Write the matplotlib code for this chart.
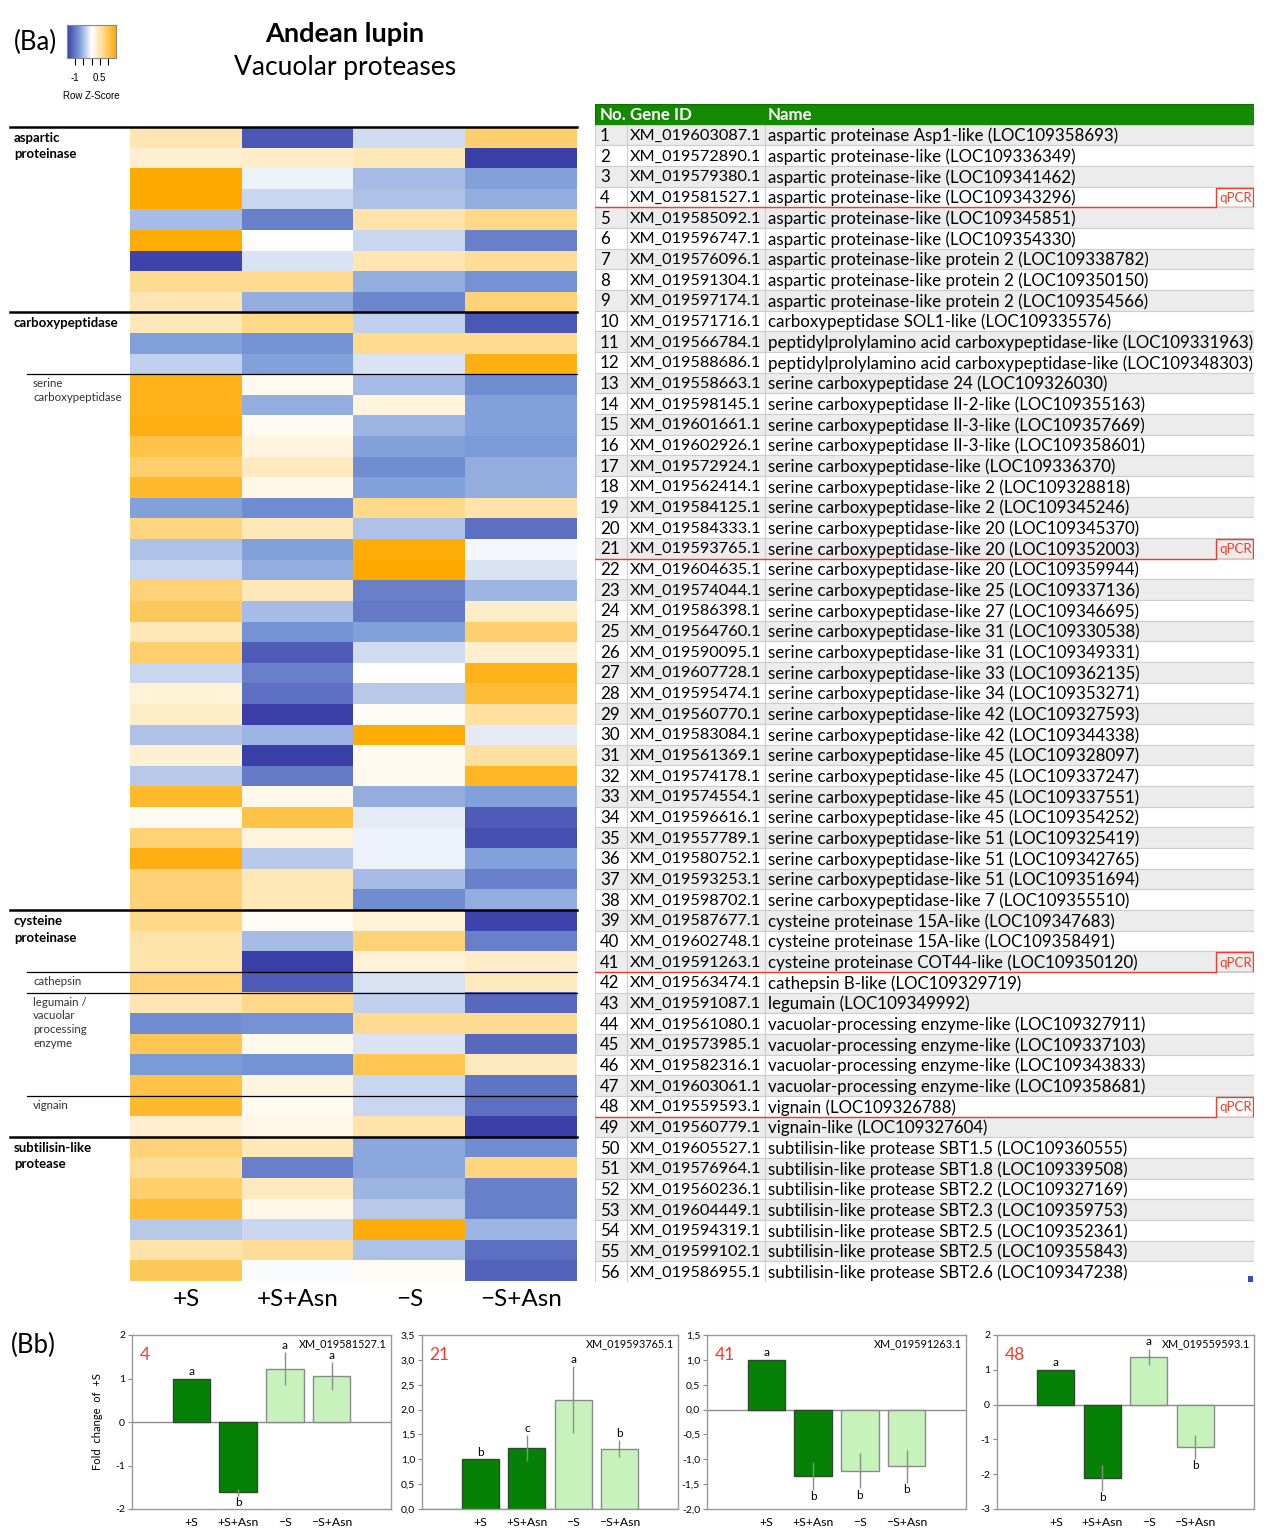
import numpy as np
import matplotlib
matplotlib.use('Agg')
import matplotlib.pyplot as plt
from matplotlib.colors import LinearSegmentedColormap
from matplotlib.patches import Rectangle
from matplotlib.ticker import FuncFormatter

W, H = 1267, 1536
plt.rcParams['font.family'] = ['Lato', 'DejaVu Sans']

conditions = ['+S', '+S+Asn', '\u2212S', '\u2212S+Asn']

# row z-scores, columns = conditions
zscores = np.array([
    # aspartic proteinase (1-9)
    [0.50, -1.30, -0.25, 0.90],
    [0.30, 0.35, 0.45, -1.50],
    [1.50, -0.10, -0.50, -0.70],
    [1.50, -0.30, -0.45, -0.60],
    [-0.50, -0.95, 0.55, 0.75],
    [1.45, 0.00, -0.30, -0.95],
    [-1.45, -0.20, 0.50, 0.65],
    [0.70, 0.70, -0.60, -0.80],
    [0.50, -0.60, -0.90, 0.85],
    # carboxypeptidase (10-12)
    [0.45, 0.75, -0.35, -1.30],
    [-0.70, -0.80, 0.70, 0.70],
    [-0.35, -0.70, -0.20, 1.40],
    # serine carboxypeptidase (13-38)
    [1.35, 0.10, -0.50, -0.85],
    [1.35, -0.60, 0.20, -0.70],
    [1.40, 0.08, -0.55, -0.70],
    [1.10, 0.20, -0.70, -0.75],
    [0.90, 0.40, -0.85, -0.60],
    [1.25, 0.15, -0.70, -0.60],
    [-0.70, -0.85, 0.75, 0.55],
    [0.80, 0.45, -0.45, -1.10],
    [-0.45, -0.70, 1.45, -0.05],
    [-0.30, -0.60, 1.50, -0.20],
    [0.85, 0.45, -0.95, -0.55],
    [1.00, -0.50, -1.00, 0.35],
    [0.45, -0.80, -0.70, 0.90],
    [0.90, -1.25, -0.25, 0.30],
    [-0.30, -0.95, 0.00, 1.35],
    [0.25, -1.10, -0.40, 1.20],
    [0.35, -1.50, 0.05, 0.60],
    [-0.45, -0.55, 1.45, -0.15],
    [0.28, -1.50, 0.10, 0.60],
    [-0.40, -1.00, 0.10, 1.30],
    [1.25, 0.12, -0.60, -0.70],
    [0.08, 1.10, -0.15, -1.25],
    [0.85, 0.20, -0.10, -1.35],
    [1.40, -0.40, -0.10, -0.70],
    [0.85, 0.45, -0.50, -0.95],
    [0.85, 0.45, -0.85, -0.60],
    # cysteine proteinase (39-49)
    [0.75, 0.05, 0.25, -1.45],
    [0.55, -0.50, 0.85, -0.95],
    [0.55, -1.50, 0.25, 0.35],
    [0.85, -1.25, -0.20, 0.40],
    [0.50, 0.75, -0.35, -1.15],
    [-0.85, -0.80, 0.70, 0.70],
    [1.05, 0.12, -0.20, -1.15],
    [-0.75, -0.80, 1.05, 0.40],
    [1.10, 0.20, -0.30, -1.05],
    [1.25, 0.10, -0.30, -1.10],
    [0.30, 0.15, 0.55, -1.50],
    # subtilisin-like protease (50-56)
    [0.85, 0.45, -0.65, -0.85],
    [0.65, -0.95, -0.65, 0.80],
    [0.90, 0.40, -0.55, -0.95],
    [1.20, 0.15, -0.40, -0.95],
    [-0.40, -0.30, 1.45, -0.55],
    [0.55, 0.65, -0.45, -1.10],
    [1.00, -0.03, 0.05, -1.20],
])

gene_ids = [
    'XM_019603087.1', 'XM_019572890.1', 'XM_019579380.1', 'XM_019581527.1',
    'XM_019585092.1', 'XM_019596747.1', 'XM_019576096.1', 'XM_019591304.1',
    'XM_019597174.1', 'XM_019571716.1', 'XM_019566784.1', 'XM_019588686.1',
    'XM_019558663.1', 'XM_019598145.1', 'XM_019601661.1', 'XM_019602926.1',
    'XM_019572924.1', 'XM_019562414.1', 'XM_019584125.1', 'XM_019584333.1',
    'XM_019593765.1', 'XM_019604635.1', 'XM_019574044.1', 'XM_019586398.1',
    'XM_019564760.1', 'XM_019590095.1', 'XM_019607728.1', 'XM_019595474.1',
    'XM_019560770.1', 'XM_019583084.1', 'XM_019561369.1', 'XM_019574178.1',
    'XM_019574554.1', 'XM_019596616.1', 'XM_019557789.1', 'XM_019580752.1',
    'XM_019593253.1', 'XM_019598702.1', 'XM_019587677.1', 'XM_019602748.1',
    'XM_019591263.1', 'XM_019563474.1', 'XM_019591087.1', 'XM_019561080.1',
    'XM_019573985.1', 'XM_019582316.1', 'XM_019603061.1', 'XM_019559593.1',
    'XM_019560779.1', 'XM_019605527.1', 'XM_019576964.1', 'XM_019560236.1',
    'XM_019604449.1', 'XM_019594319.1', 'XM_019599102.1', 'XM_019586955.1',
]

gene_names = [
    'aspartic proteinase Asp1-like (LOC109358693)',
    'aspartic proteinase-like (LOC109336349)',
    'aspartic proteinase-like (LOC109341462)',
    'aspartic proteinase-like (LOC109343296)',
    'aspartic proteinase-like (LOC109345851)',
    'aspartic proteinase-like (LOC109354330)',
    'aspartic proteinase-like protein 2 (LOC109338782)',
    'aspartic proteinase-like protein 2 (LOC109350150)',
    'aspartic proteinase-like protein 2 (LOC109354566)',
    'carboxypeptidase SOL1-like (LOC109335576)',
    'peptidylprolylamino acid carboxypeptidase-like (LOC109331963)',
    'peptidylprolylamino acid carboxypeptidase-like (LOC109348303)',
    'serine carboxypeptidase 24 (LOC109326030)',
    'serine carboxypeptidase II-2-like (LOC109355163)',
    'serine carboxypeptidase II-3-like (LOC109357669)',
    'serine carboxypeptidase II-3-like (LOC109358601)',
    'serine carboxypeptidase-like (LOC109336370)',
    'serine carboxypeptidase-like 2 (LOC109328818)',
    'serine carboxypeptidase-like 2 (LOC109345246)',
    'serine carboxypeptidase-like 20 (LOC109345370)',
    'serine carboxypeptidase-like 20 (LOC109352003)',
    'serine carboxypeptidase-like 20 (LOC109359944)',
    'serine carboxypeptidase-like 25 (LOC109337136)',
    'serine carboxypeptidase-like 27 (LOC109346695)',
    'serine carboxypeptidase-like 31 (LOC109330538)',
    'serine carboxypeptidase-like 31 (LOC109349331)',
    'serine carboxypeptidase-like 33 (LOC109362135)',
    'serine carboxypeptidase-like 34 (LOC109353271)',
    'serine carboxypeptidase-like 42 (LOC109327593)',
    'serine carboxypeptidase-like 42 (LOC109344338)',
    'serine carboxypeptidase-like 45 (LOC109328097)',
    'serine carboxypeptidase-like 45 (LOC109337247)',
    'serine carboxypeptidase-like 45 (LOC109337551)',
    'serine carboxypeptidase-like 45 (LOC109354252)',
    'serine carboxypeptidase-like 51 (LOC109325419)',
    'serine carboxypeptidase-like 51 (LOC109342765)',
    'serine carboxypeptidase-like 51 (LOC109351694)',
    'serine carboxypeptidase-like 7 (LOC109355510)',
    'cysteine proteinase 15A-like (LOC109347683)',
    'cysteine proteinase 15A-like (LOC109358491)',
    'cysteine proteinase COT44-like (LOC109350120)',
    'cathepsin B-like (LOC109329719)',
    'legumain (LOC109349992)',
    'vacuolar-processing enzyme-like (LOC109327911)',
    'vacuolar-processing enzyme-like (LOC109337103)',
    'vacuolar-processing enzyme-like (LOC109343833)',
    'vacuolar-processing enzyme-like (LOC109358681)',
    'vignain (LOC109326788)',
    'vignain-like (LOC109327604)',
    'subtilisin-like protease SBT1.5 (LOC109360555)',
    'subtilisin-like protease SBT1.8 (LOC109339508)',
    'subtilisin-like protease SBT2.2 (LOC109327169)',
    'subtilisin-like protease SBT2.3 (LOC109359753)',
    'subtilisin-like protease SBT2.5 (LOC109352361)',
    'subtilisin-like protease SBT2.5 (LOC109355843)',
    'subtilisin-like protease SBT2.6 (LOC109347238)',
]

qpcr_rows = [4, 21, 41, 48]

# (label, first row (1-based))
main_groups = [('aspartic\nproteinase', 1), ('carboxypeptidase', 10),
               ('cysteine\nproteinase', 39), ('subtilisin-like\nprotease', 50)]
sub_groups = [('serine\ncarboxypeptidase', 13), ('cathepsin', 42),
              ('legumain /\nvacuolar\nprocessing\nenzyme', 43), ('vignain', 48)]

# qPCR panels (Bb)
qpcr_ids = ['4', '21', '41', '48']
qpcr_genes = ['XM_019581527.1', 'XM_019593765.1', 'XM_019591263.1', 'XM_019559593.1']
qpcr_values = [[1.0, -1.62, 1.22, 1.05],
               [1.0, 1.23, 2.20, 1.21],
               [1.0, -1.33, -1.23, -1.14],
               [1.0, -2.11, 1.38, -1.21]]
qpcr_errors = [[0.0, 0.08, 0.38, 0.32],
               [0.0, 0.26, 0.67, 0.17],
               [0.0, 0.28, 0.35, 0.33],
               [0.0, 0.37, 0.23, 0.34]]
qpcr_letters = [['a', 'b', 'a', 'a'],
                ['b', 'c', 'a', 'b'],
                ['a', 'b', 'b', 'b'],
                ['a', 'b', 'a', 'b']]
qpcr_ylims = [(-2, 2), (0, 3.5), (-2, 1.5), (-3, 2)]
qpcr_ysteps = [1, 0.5, 0.5, 1]


def px_axes(fig, x0, y0, x1, y1):
    return fig.add_axes([x0 / W, 1 - y1 / H, (x1 - x0) / W, (y1 - y0) / H])


def fx(x):
    return x / W


def fy(y):
    return 1 - y / H


def comma_fmt(v, p):
    return f'{v:.1f}'.replace('.', ',')


def int_fmt(v, p):
    return f'{v:.0f}'


fig = plt.figure(figsize=(W / 100, H / 100), dpi=100)
fig.patch.set_facecolor('white')

cmap = LinearSegmentedColormap.from_list(
    'zs', [(0.0, '#3a3fa8'), (0.25, '#7a9ad8'), (0.5, '#ffffff'),
           (0.75, '#ffd98a'), (1.0, '#ffaa00')])

# ---- heatmap ----
hm_x0, hm_x1 = 130, 577
ax = px_axes(fig, hm_x0, 127, hm_x1, 1281)
ax.imshow(zscores, aspect='auto', cmap=cmap, vmin=-1.5, vmax=1.5,
          interpolation='nearest')
for s in ax.spines.values():
    s.set_visible(False)
ax.set_yticks([])
ax.set_xticks(range(4))
ax.set_xticklabels(conditions, fontsize=17.5)
ax.tick_params(axis='x', length=0, pad=6)

hm_w = hm_x1 - hm_x0
for label, r in main_groups:
    ax.axhline(r - 1.5, xmin=(10 - hm_x0) / hm_w, xmax=1, color='black',
               lw=1.8, clip_on=False)
for label, r in sub_groups:
    ax.axhline(r - 1.5, xmin=(27 - hm_x0) / hm_w, xmax=1, color='black',
               lw=0.9, clip_on=False)

row_h = (1281 - 127) / len(zscores)
for label, r in main_groups:
    fig.text(fx(14), fy(127 + (r - 1) * row_h + 5), label, fontsize=9.5,
             fontweight='bold', va='top', ha='left', linespacing=1.45)
for label, r in sub_groups:
    fig.text(fx(33), fy(127 + (r - 1) * row_h + 4), label, fontsize=8.3,
             va='top', ha='left', color='#333333', linespacing=1.3)

# ---- colour key ----
kax = px_axes(fig, 67, 25, 116, 58)
grad = np.linspace(-1.5, 1.5, 256)[None, :]
kax.imshow(grad, aspect='auto', cmap=cmap, extent=[-1.5, 1.5, 0, 1])
kax.set_yticks([])
kax.set_xticks([-1, -0.5, 0, 0.5, 1])
kax.set_xticklabels(['-1', '', '', '0.5', ''], fontsize=7,
                    family='Liberation Sans')
kax.tick_params(axis='x', length=5, width=0.8, pad=6)
for s in kax.spines.values():
    s.set_color('#888888')
    s.set_linewidth(0.8)
fig.text(fx(91), fy(96), 'Row Z-Score', fontsize=7, ha='center', va='center',
         family='Liberation Sans')

fig.text(fx(14), fy(42), '(Ba)', fontsize=18.5, ha='left', va='center')
fig.text(fx(345), fy(34), 'Andean lupin', fontsize=19.5, fontweight='bold',
         ha='center', va='center')
fig.text(fx(345), fy(68), 'Vacuolar proteases', fontsize=19, ha='center',
         va='center')

# ---- gene table ----
tx0, tx1 = 595, 1254
tax = px_axes(fig, tx0, 104, tx1, 1282)
n_rows = len(gene_ids) + 1
tw = tx1 - tx0
tax.set_xlim(0, tw)
tax.set_ylim(n_rows, 0)
tax.axis('off')
col_edges = [0, 32, 170, tw]
fs = 12.2
tax.add_patch(Rectangle((0, 0), tw, 1, facecolor='#138a00', edgecolor='#0f6e00', lw=0.8))
for x, t in zip([5, 35, 173], ['No.', 'Gene ID', 'Name']):
    tax.text(x, 0.55, t, color='white', fontweight='bold', fontsize=fs,
             va='center', ha='left')
for i, (gid, name) in enumerate(zip(gene_ids, gene_names), start=1):
    fc = '#ececec' if i % 2 == 1 else 'white'
    for c0, c1 in zip(col_edges[:-1], col_edges[1:]):
        tax.add_patch(Rectangle((c0, i), c1 - c0, 1, facecolor=fc,
                                edgecolor='#cdcdcd', lw=0.8))
    tax.text(5, i + 0.55, str(i), fontsize=fs, va='center', ha='left')
    tax.text(35, i + 0.55, gid, fontsize=11.7, va='center', ha='left')
    tax.text(173, i + 0.55, name, fontsize=fs, va='center', ha='left')
    if i in qpcr_rows:
        tax.add_patch(Rectangle((621, i + 0.05), tw - 622, 0.95, facecolor='none',
                                edgecolor='#f03c2a', lw=1.0))
        tax.text(622 + (tw - 622) / 2, i + 0.55, 'qPCR', color='#f03c2a',
                 fontsize=9.5, ha='center', va='center')
        tax.plot([0, 621], [i + 1, i + 1], color='#f03c2a', lw=1.0)
tax.add_patch(Rectangle((tw - 6, n_rows - 0.3), 5, 0.3, facecolor='#3050c0',
                        edgecolor='none', clip_on=False))

# ---- qPCR bar charts ----
fig.text(fx(11), fy(1345), '(Bb)', fontsize=18.5, ha='left', va='center')
panel_x = [(132, 391), (422, 678), (707, 966), (997, 1254)]
dark, light = '#058205', '#c8f2bc'
colors = [dark, dark, light, light]
edges = ['#2e4a2e', '#2e4a2e', '#8a8a8a', '#8a8a8a']
x = np.arange(4)

for k in range(4):
    bx = px_axes(fig, panel_x[k][0], 1335, panel_x[k][1], 1509)
    vals = qpcr_values[k]
    errs = qpcr_errors[k]
    lo, hi = qpcr_ylims[k]
    bx.bar(x, vals, width=0.8, color=colors, edgecolor=edges, linewidth=1.0,
           zorder=2)
    bx.errorbar(x, vals, yerr=errs, fmt='none', ecolor='#8c8c8c', elinewidth=1.0,
                capsize=0, zorder=3)
    bx.axhline(0, color='#8c8c8c', lw=1.0, zorder=1)
    off = 0.008 * (hi - lo)
    for xi, v, e, l in zip(x, vals, errs, qpcr_letters[k]):
        if v >= 0:
            bx.text(xi, v + e + off, l, ha='center', va='bottom', fontsize=8.5)
        else:
            bx.text(xi, v - e - off, l, ha='center', va='top', fontsize=8.5)
    bx.set_xlim(-1.27, 4.27)
    bx.set_ylim(lo, hi)
    bx.set_yticks(np.arange(lo, hi + 1e-9, qpcr_ysteps[k]))
    if qpcr_ysteps[k] < 1:
        bx.yaxis.set_major_formatter(FuncFormatter(comma_fmt))
    else:
        bx.yaxis.set_major_formatter(FuncFormatter(int_fmt))
    bx.set_xticks(x)
    bx.set_xticklabels(conditions, fontsize=8.8)
    bx.tick_params(axis='x', length=0, pad=6)
    bx.tick_params(axis='y', labelsize=7.5, length=3, color='#888888', pad=2)
    for s in bx.spines.values():
        s.set_color('#999999')
        s.set_linewidth(1.0)
    bx.text(0.03, 0.93, qpcr_ids[k], transform=bx.transAxes, color='#f03c2a',
            fontsize=12.5, ha='left', va='top')
    bx.text(0.985, 0.985, qpcr_genes[k], transform=bx.transAxes, fontsize=7.8,
            ha='right', va='top')
    if k == 0:
        bx.set_ylabel('Fold  change  of  +S', fontsize=8, labelpad=9)

fig.savefig('out.png', dpi=100, facecolor='white')
